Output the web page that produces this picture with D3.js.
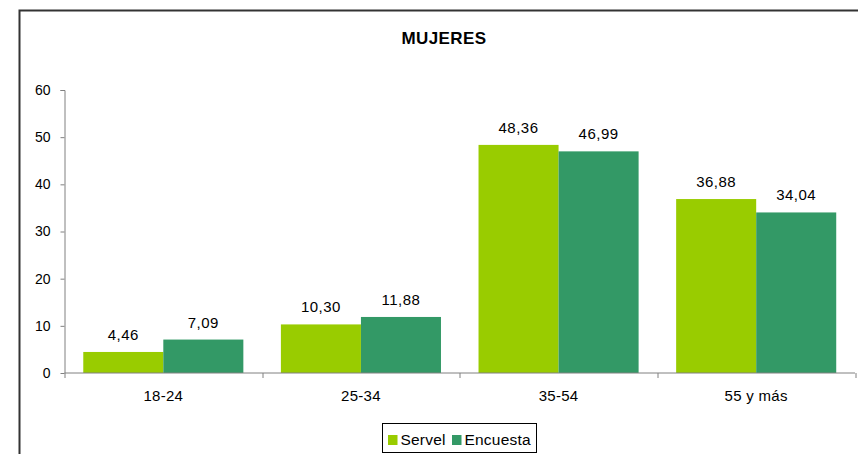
<!DOCTYPE html>
<html>
<head>
<meta charset="utf-8">
<script src="https://cdn.jsdelivr.net/npm/d3@7"></script>
<style>
  body { margin: 0; background: #fff; }
  svg { display: block; font-family: "Liberation Sans", Arial, sans-serif; }
</style>
</head>
<body>
<div id="chart"></div>
<script>
const categories = ["18-24", "25-34", "35-54", "55 y más"];
const seriesNames = ["Servel", "Encuesta"];
const servel = [4.46, 10.30, 48.36, 36.88];
const encuesta = [7.09, 11.88, 46.99, 34.04];
const yTicks = [0, 10, 20, 30, 40, 50, 60];
const colors = ["#99cc00", "#339966"];

const data = categories.map((c, i) => ({ cat: c, values: [servel[i], encuesta[i]] }));

const W = 858, H = 454;
const margin = { top: 90, right: 3, bottom: 81, left: 64.5 };
const width = W - margin.left - margin.right;
const height = H - margin.top - margin.bottom;

const svg = d3.select("#chart")
    .append("svg")
    .attr("width", W)
    .attr("height", H);

// outer frame (only top and left edges visible)
svg.append("path")
    .attr("d", `M19.5,${H} V10.5 H${W}`)
    .attr("fill", "none")
    .attr("stroke", "#333")
    .attr("stroke-width", 2);

svg.append("text")
    .attr("x", 444)
    .attr("y", 44)
    .attr("text-anchor", "middle")
    .attr("font-weight", "bold")
    .attr("font-size", 17)
    .attr("letter-spacing", 0.4)
    .text("MUJERES");

const g = svg.append("g")
    .attr("transform", `translate(${margin.left},${margin.top})`);

const x = d3.scaleBand()
    .domain(categories)
    .range([0, width])
    .paddingInner(0.19)
    .paddingOuter(0.095);

const xs = d3.scaleBand()
    .domain(seriesNames)
    .range([0, x.bandwidth()]);

const y = d3.scaleLinear()
    .domain([0, 60])
    .range([height, 0]);

// bars
const groups = g.selectAll(".grp")
    .data(data)
    .enter().append("g")
    .attr("transform", d => `translate(${x(d.cat)},0)`);

groups.selectAll("rect")
    .data(d => d.values)
    .enter().append("rect")
    .attr("x", (d, i) => xs(seriesNames[i]))
    .attr("y", d => y(d))
    .attr("width", xs.bandwidth())
    .attr("height", d => height - y(d))
    .attr("fill", (d, i) => colors[i]);

groups.selectAll("text")
    .data(d => d.values)
    .enter().append("text")
    .attr("x", (d, i) => xs(seriesNames[i]) + xs.bandwidth() / 2)
    .attr("y", d => y(d) - 12)
    .attr("text-anchor", "middle")
    .attr("font-size", 15)
    .attr("letter-spacing", 0.5)
    .attr("fill", "#000")
    .text(d => d3.format(".2f")(d).replace(".", ","));

// y axis
const yAxis = g.append("g")
    .call(d3.axisLeft(y).tickValues(yTicks).tickSize(4).tickPadding(10));
yAxis.select(".domain").attr("stroke", "#808080").attr("d", `M-4,0.5H0.5V${height}`);
yAxis.selectAll(".tick line").attr("stroke", "#808080");
yAxis.selectAll(".tick text").attr("font-size", 14).attr("font-family", "Liberation Sans, Arial, sans-serif").attr("fill", "#000");

// x axis with boundary ticks
const xAxis = g.append("g")
    .attr("transform", `translate(0,${height})`);
xAxis.append("line")
    .attr("x1", 0).attr("x2", width)
    .attr("stroke", "#808080");
const step = x.step();
const boundaries = d3.range(categories.length + 1).map(i => x(categories[0]) - x.paddingOuter() * step + i * step);
xAxis.selectAll(".bt")
    .data(boundaries)
    .enter().append("line")
    .attr("x1", d => Math.round(d) + 0.5).attr("x2", d => Math.round(d) + 0.5)
    .attr("y1", 0).attr("y2", 5)
    .attr("stroke", "#808080");
xAxis.selectAll(".xl")
    .data(categories)
    .enter().append("text")
    .attr("x", d => x(d) + x.bandwidth() / 2)
    .attr("y", 28)
    .attr("text-anchor", "middle")
    .attr("font-size", 15)
    .attr("letter-spacing", 0.3)
    .text(d => d);

// legend
const legend = svg.append("g").attr("transform", "translate(382.5,423.5)");
legend.append("rect")
    .attr("width", 154).attr("height", 29)
    .attr("fill", "#fff").attr("stroke", "#000");
const legendX = [5.5, 69.5];
seriesNames.forEach((s, i) => {
    legend.append("rect")
        .attr("x", legendX[i]).attr("y", 11.5)
        .attr("width", 9.5).attr("height", 10)
        .attr("fill", colors[i]);
    legend.append("text")
        .attr("x", legendX[i] + 12.5).attr("y", 21.5)
        .attr("font-size", 15.5)
        .attr("letter-spacing", 0.2)
        .text(s);
});
</script>
</body>
</html>
